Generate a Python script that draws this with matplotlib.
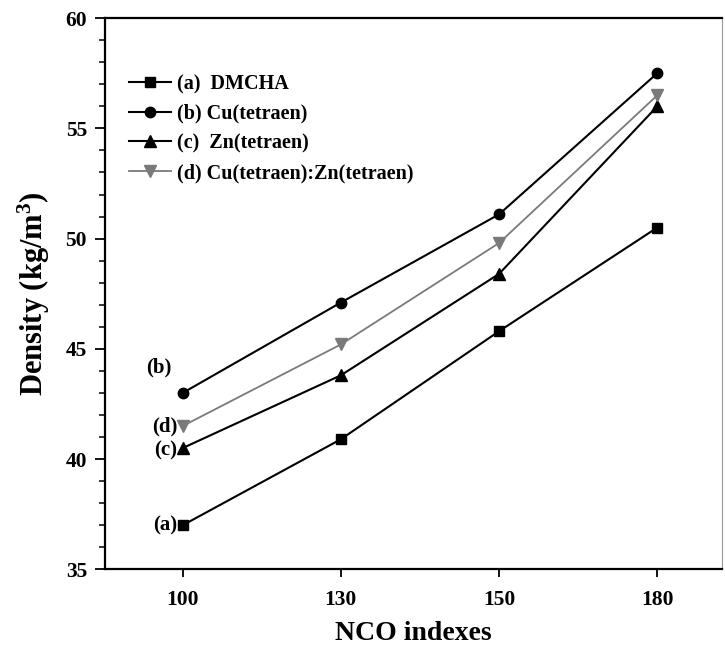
import matplotlib
matplotlib.use("Agg")
import matplotlib.pyplot as plt
from matplotlib.ticker import MultipleLocator

plt.rcParams['font.family'] = ['Liberation Serif', 'DejaVu Serif']
plt.rcParams['font.weight'] = 'bold'
plt.rcParams['mathtext.fontset'] = 'custom'
plt.rcParams['mathtext.rm'] = 'Liberation Serif:bold'
plt.rcParams['mathtext.it'] = 'Liberation Serif:bold'
plt.rcParams['mathtext.bf'] = 'Liberation Serif:bold'

nco_labels = ['100', '130', '150', '180']
dmcha = [37.0, 40.9, 45.8, 50.5]
cu_tetraen = [43.0, 47.1, 51.1, 57.5]
zn_tetraen = [40.5, 43.8, 48.4, 56.0]
cu_zn_tetraen = [41.5, 45.2, 49.8, 56.5]
series_names = ['(a)  DMCHA', '(b) Cu(tetraen)', '(c)  Zn(tetraen)',
                '(d) Cu(tetraen):Zn(tetraen)']
tags = ['(a)', '(b)', '(c)', '(d)']

x = list(range(len(nco_labels)))

fig = plt.figure(figsize=(7.25, 6.47), dpi=100)
ax = fig.add_axes([0.145, 0.12, 0.851, 0.852])

styles = [
    dict(color='black', marker='s', lw=1.5, ms=7),
    dict(color='black', marker='o', lw=1.5, ms=7.5),
    dict(color='black', marker='^', lw=1.5, ms=8),
    dict(color='#7a7a7a', marker='v', lw=1.3, ms=8),
]
data = [dmcha, cu_tetraen, zn_tetraen, cu_zn_tetraen]
for vals, name, st in zip(data, series_names, styles):
    ax.plot(x, vals, label=name, **st)

# series tags beside the first points
tag_fs = 15
ax.annotate(tags[0], (x[0], dmcha[0]), xytext=(-4, 0), textcoords='offset points',
            ha='right', va='center', fontsize=tag_fs, fontweight='bold')
ax.annotate(tags[1], (x[0], cu_tetraen[0]), xytext=(-17, 18), textcoords='offset points',
            ha='center', va='center', fontsize=tag_fs, fontweight='bold')
ax.annotate(tags[2], (x[0], zn_tetraen[0]), xytext=(-4, -2), textcoords='offset points',
            ha='right', va='center', fontsize=tag_fs, fontweight='bold')
ax.annotate(tags[3], (x[0], cu_zn_tetraen[0]), xytext=(-4, 0), textcoords='offset points',
            ha='right', va='center', fontsize=tag_fs, fontweight='bold')

ax.set_xlim(-0.49, 3.41)
ax.set_ylim(35, 60)
ax.set_xticks(x)
ax.set_xticklabels(nco_labels)
ax.yaxis.set_major_locator(MultipleLocator(5))
ax.yaxis.set_minor_locator(MultipleLocator(1))
ax.tick_params(axis='both', which='major', direction='out', length=7, width=1.3,
               labelsize=15.5, pad=6)
ax.tick_params(axis='y', which='minor', direction='out', length=4.5, width=1.1)
ax.tick_params(axis='x', which='major', length=6, pad=9)
for lbl in ax.get_xticklabels() + ax.get_yticklabels():
    lbl.set_fontweight('bold')
for sp in ax.spines.values():
    sp.set_linewidth(1.6)
ax.spines['right'].set_linewidth(0.8)
ax.spines['right'].set_color('#999999')

ax.set_xlabel('NCO indexes', fontsize=20, fontweight='bold', labelpad=8)
ax.set_ylabel('Density (kg/m$^3$)', fontsize=22, fontweight='bold', labelpad=10)

leg = ax.legend(loc='upper left', bbox_to_anchor=(0.025, 0.913), frameon=False,
                fontsize=14.5, handlelength=2.1, handletextpad=0.3,
                labelspacing=0.48, borderaxespad=0)
for t in leg.get_texts():
    t.set_fontweight('bold')

fig.savefig('out.png', dpi=100)
